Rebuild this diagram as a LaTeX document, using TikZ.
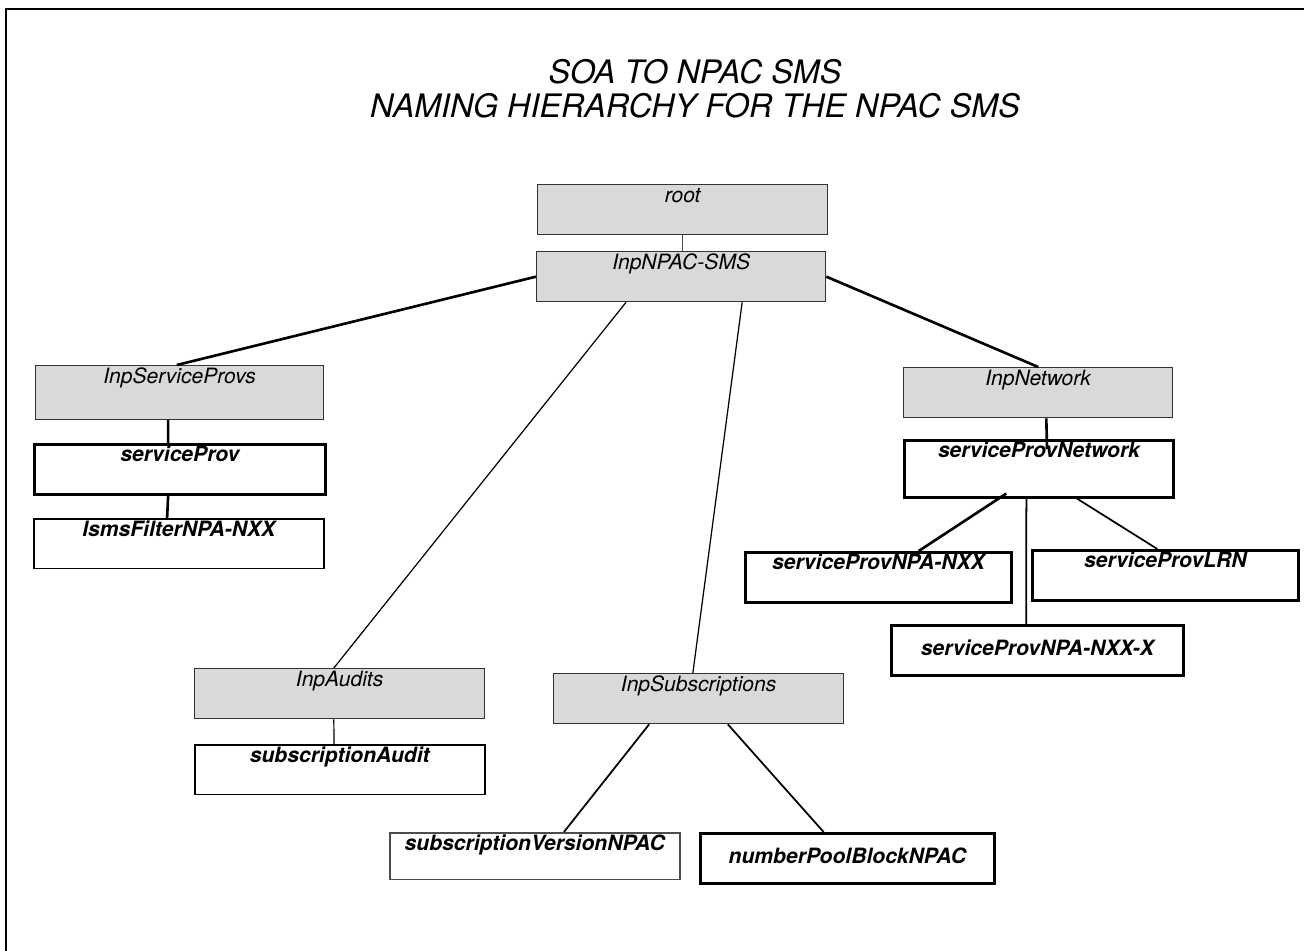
\documentclass[tikz,border=0pt]{standalone}
\usepackage{fontspec}
\setmainfont{TeX Gyre Heros}
\usetikzlibrary{calc}
\definecolor{boxgray}{HTML}{D9D9D9}
\tikzset{
  graybox/.style={draw=black!80, fill=boxgray, line width=0.8pt, inner xsep=2pt, inner ysep=0pt,
    anchor=north west, text height=10pt, text depth=18.4pt,
    font=\fontsize{12}{14}\selectfont\itshape},
  whitebox/.style={draw=black, fill=white, line width=1.6pt, inner xsep=2pt, inner ysep=0pt,
    anchor=north west, text height=10pt, text depth=18.4pt,
    font=\fontsize{12}{14}\selectfont\bfseries\itshape},
  thinbox/.style={whitebox, line width=0.9pt},
  midtext/.style={text height=17pt, text depth=11.4pt},
  heavylink/.style={line width=1.5pt},
  midlink/.style={line width=1pt},
  lightlink/.style={line width=0.7pt},
  titletext/.style={font=\fontsize{18.4}{20}\selectfont\itshape, anchor=base, inner sep=0pt}
}

\begin{document}
\begin{tikzpicture}[x=0.02cm, y=-0.02cm]
\useasboundingbox (0,0) rectangle (1304,950);
% frame and title
\draw[line width=1.3pt] (1320,9) -- (6,9) -- (6,960);
\node[titletext] (title) at (695,83) {SOA TO NPAC SMS};
\node[titletext] (subtitle) at (695,117) {NAMING HIERARCHY FOR THE NPAC SMS};

% top of the tree
\node[graybox, minimum width=5.8cm] (root) at (537,184) {root};
\node[graybox, minimum width=5.78cm] (npac) at (536,251) {InpNPAC-SMS};

% service providers branch
\node[graybox, minimum width=5.76cm, text depth=20.6pt] (svcprovs) at (35,365) {InpServiceProvs};
\node[whitebox, minimum width=5.82cm] (svcprov) at (33,443) {serviceProv};
\node[thinbox, minimum width=5.8cm] (lsms) at (33,518) {lsmsFilterNPA-NXX};

% network branch
\node[graybox, minimum width=5.38cm] (network) at (903,367) {InpNetwork};
\node[whitebox, minimum width=5.38cm, text depth=22.3pt] (spnet) at (903,439) {serviceProvNetwork};
\node[whitebox, minimum width=5.32cm] (spnpanxx) at (744,551) {serviceProvNPA-NXX};
\node[whitebox, minimum width=5.32cm] (splrn) at (1031,549) {serviceProvLRN};
\node[whitebox, midtext, minimum width=5.84cm] (spnpanxxx) at (890,624) {serviceProvNPA-NXX-X};

% audits and subscriptions
\node[graybox, minimum width=5.8cm] (audits) at (194,668) {InpAudits};
\node[thinbox, minimum width=5.8cm] (subaudit) at (194,744) {subscriptionAudit};
\node[graybox, minimum width=5.8cm] (subs) at (553,673) {InpSubscriptions};
\node[thinbox, draw=black!70, minimum width=5.8cm, text depth=16.6pt] (subver) at (389,832) {subscriptionVersionNPAC};
\node[whitebox, midtext, minimum width=5.88cm] (pool) at (699,832) {numberPoolBlockNPAC};

% the links
\draw[lightlink, black!70] (root.south) -- (root.south |- npac.north);
\draw[heavylink] (npac.west) -- ($(svcprovs.north west)!.49!(svcprovs.north east)$);
\draw[heavylink] (npac.east) -- (network.north);
\draw[lightlink] ($(npac.south west)!.31!(npac.south east)$) -- ($(audits.north west)!.48!(audits.north east)$);
\draw[lightlink] ($(npac.south west)!.71!(npac.south east)$) -- ($(subs.north west)!.48!(subs.north east)$);
\draw[heavylink] ($(svcprovs.south west)!.46!(svcprovs.south east)$) -- ($(svcprov.north west)!.46!(svcprov.north east)$);
\draw[heavylink] ($(svcprov.south west)!.46!(svcprov.south east)$) -- ($(lsms.north west)!.46!(lsms.north east)$);
\draw[heavylink] ($(network.south west)!.53!(network.south east)$) -- ($(spnet.north west)!.53!(spnet.north east)+(0,10)$);
\draw[heavylink] ($(spnet.south west)!.38!(spnet.south east)+(0,-5)$) -- ($(spnpanxx.north west)!.65!(spnpanxx.north east)$);
\draw[midlink] ($(spnet.south west)!.454!(spnet.south east)$) -- ($(spnpanxxx.north west)!.462!(spnpanxxx.north east)$);
\draw[midlink] ($(spnet.south west)!.64!(spnet.south east)$) -- ($(splrn.north west)!.47!(splrn.north east)$);
\draw[lightlink] ($(audits.south west)!.48!(audits.south east)$) -- ($(subaudit.north west)!.48!(subaudit.north east)$);
\draw[midlink] ($(subs.south west)!.33!(subs.south east)$) -- ($(subver.north west)!.6!(subver.north east)$);
\draw[midlink] ($(subs.south west)!.6!(subs.south east)$) -- ($(pool.north west)!.42!(pool.north east)$);
\end{tikzpicture}
\end{document}
